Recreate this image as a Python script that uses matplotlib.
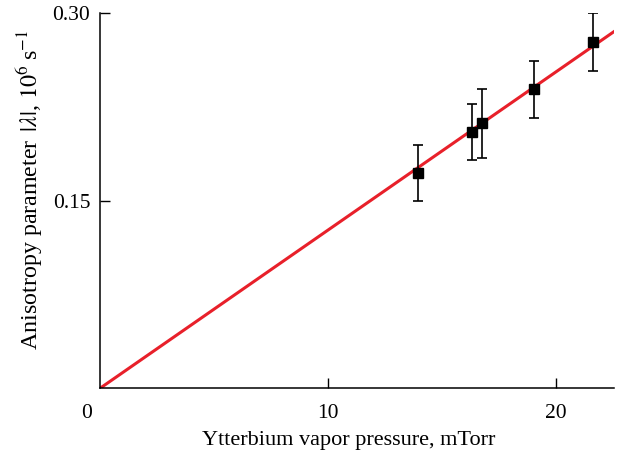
import numpy as np
from matplotlib import pyplot as plt

# data
pressure = [13.95, 16.33, 16.74, 19.04, 21.64]
anisotropy = [0.172, 0.2053, 0.212, 0.2392, 0.2768]
anisotropy_err = [0.0224, 0.0225, 0.0274, 0.0227, 0.0232]
fit_slope = 0.01266
x_ticks = [10, 20]
y_ticks = [0.15, 0.30]
y_tick_labels = ['0.15', '0.30']

plt.rcParams['font.family'] = ['Liberation Serif', 'DejaVu Serif']
plt.rcParams['mathtext.fontset'] = 'stix'
fs = 15.5

fig = plt.figure(figsize=(6.18, 4.54), dpi=100)
ax = fig.add_axes([100 / 618, 1 - 388.3 / 454, 514 / 618, 375 / 454])

xmax = 22.54
fit_x = np.array([0, xmax])
ax.plot(fit_x, fit_slope * fit_x, color='#e8202a', lw=2.2, zorder=2)
ax.errorbar(pressure, anisotropy, yerr=anisotropy_err, fmt='s', color='black',
            markersize=7.5, capsize=3.8, elinewidth=1.2, capthick=1.2, zorder=3)

ax.set_xlim(0, xmax)
ax.set_ylim(0, 0.30)
ax.set_xticks(x_ticks)
ax.set_yticks(y_ticks)
ax.set_yticklabels(y_tick_labels)
ax.tick_params(direction='in', length=7, width=1, labelsize=fs)
ax.tick_params(axis='x', pad=11)
ax.tick_params(axis='y', pad=7)
ax.spines['top'].set_visible(False)
ax.spines['right'].set_visible(False)
for s in ('left', 'bottom'):
    ax.spines[s].set_linewidth(1.1)

ax.text(-13 / 514, -25 / 375, '0', transform=ax.transAxes, fontsize=fs,
        ha='center', va='center')
ax.set_xlabel('Ytterbium vapor pressure, mTorr', fontsize=fs + 0.5)
ax.xaxis.set_label_coords(0.484, -52 / 375)
ax.set_ylabel(r'Anisotropy parameter $\,|\lambda|$, $10^6\;$s$^{-1}$', fontsize=17.3)
ax.yaxis.set_label_coords(-70 / 514, (388.3 - 190) / 375)
ax.yaxis.label.set_va('center')
ax.xaxis.label.set_va('center')

fig.savefig('out.png', dpi=100)
